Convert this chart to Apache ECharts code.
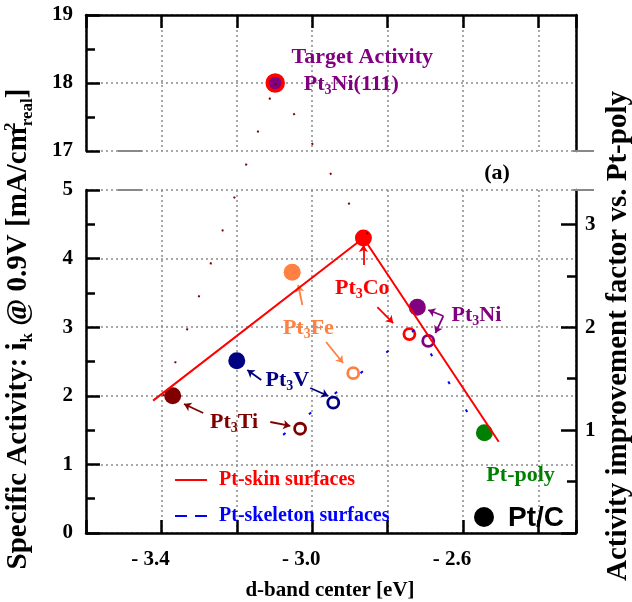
<!DOCTYPE html>
<html><head><meta charset="utf-8">
<script src="https://cdn.jsdelivr.net/npm/echarts@6/dist/echarts.min.js"></script>
<style>html,body{margin:0;padding:0;background:#fff}#c{width:632px;height:602px}</style>
</head><body><div id="c"></div>
<script>
const SERIF = '"Liberation Serif","Times New Roman",serif';
const SANS = '"Liberation Sans",Arial,sans-serif';

// ---- data ----
const xTickLabels = [-3.4, -3.0, -2.6];
const rightTickLabels = [1, 2, 3];
const skinNames = ['Pt3Ti', 'Pt3V', 'Pt3Fe', 'Pt3Co', 'Pt3Ni', 'Pt-poly'];
const skinX = [-3.37, -3.20, -3.053, -2.864, -2.721, -2.543];
const skinY = [2.00, 2.51, 3.80, 4.30, 3.29, 1.46];
const skinColors = ['#800000', '#000080', '#FF8040', '#FF0000', '#800080', '#008000'];
const skeletonNames = ['Pt3Ti', 'Pt3V', 'Pt3Fe', 'Pt3Co', 'Pt3Ni'];
const skeletonX = [-3.032, -2.944, -2.891, -2.742, -2.692];
const skeletonY = [1.52, 1.90, 2.33, 2.90, 2.80];
const skeletonColors = ['#800000', '#000080', '#FF8040', '#FF0000', '#800080'];
const targetX = [-3.098];
const targetY = [18.0];
const skinTrendX = [-3.422, -2.864, -2.505];
const skinTrendY = [1.93, 4.30, 1.33];
const skeletonTrendX = [-3.077, -2.726, -2.548];
const skeletonTrendY = [1.43, 2.97, 1.41];
const guide1X = [-3.395, -3.098];
const guide1Y = [2.0, 18.0];
const guide2X = [-3.098, -2.845];
const guide2Y = [18.0, 4.3];
// annotation leaders (start -> arrow end), data coordinates
const leaderStart = [[-3.289, 1.749], [-3.111, 1.618], [-3.135, 2.230], [-3.005, 2.114], [-3.026, 3.324], [-2.963, 2.784], [-2.864, 3.907], [-2.827, 3.294], [-2.652, 3.163], [-2.652, 3.163]];
const leaderEnd = [[-3.340, 1.880], [-3.058, 1.560], [-3.172, 2.376], [-2.957, 1.997], [-3.037, 3.615], [-2.918, 2.478], [-2.864, 4.198], [-2.785, 3.061], [-2.692, 3.251], [-2.673, 2.915]];
const leaderColors = ['#800000', '#800000', '#000080', '#000080', '#FF8040', '#FF8040', '#FF0000', '#FF0000', '#800080', '#800080'];
const labelTexts = ['Pt3Ti', 'Pt3V', 'Pt3Fe', 'Pt3Co', 'Pt3Ni', 'Pt-poly'];
const labelX = [-3.207, -3.066, -3.010, -2.867, -2.564, -2.447];
const labelY = [1.618, 2.230, 2.988, 3.571, 3.178, 0.845];
const labelColors = ['#800000', '#000080', '#FF8040', '#FF0000', '#800080', '#008000'];
const targetLabelTexts = ['Target Activity', 'Pt3Ni(111)'];
const targetLabelX = [-2.867, -2.896];
const targetLabelY = [18.38, 17.985];

// ---- helpers ----
function zip(a, b) { return a.map((v, i) => [v, b[i]]); }
function richText(t) {
  const m = t.match(/^Pt3(.*)$/);
  if (m) return '{m|Pt}{s|3}{m|' + m[1] + '}';
  return '{m|' + t + '}';
}
function richFor(color, size) {
  return {
    m: { fontFamily: SERIF, fontWeight: 'bold', fontSize: size, color: color, lineHeight: size + 4 },
    s: { fontFamily: SERIF, fontWeight: 'bold', fontSize: Math.round(size * 0.64), color: color, verticalAlign: 'bottom', lineHeight: Math.round(size * 0.64) }
  };
}
const gridLine = { show: true, lineStyle: { color: '#8a8a8a', type: [2, 3], width: 1.5 } };
const blackLine = { show: true, lineStyle: { color: '#000', width: 2.5 } };
const axisLabelFont = { fontFamily: SERIF, fontWeight: 'bold', fontSize: 21, color: '#000' };
const X0 = -3.6, X1 = -2.3, XI = 0.2;

const chart = echarts.init(document.getElementById('c'), null, { renderer: 'canvas' });

const option = {
  animation: false,
  backgroundColor: '#fff',
  grid: [
    { left: 86, top: 15, width: 490, height: 136, outerBoundsMode: 'none' },
    { left: 86, top: 190, width: 490, height: 343, outerBoundsMode: 'none' },
    { left: 86, top: 15, width: 490, height: 518, outerBoundsMode: 'none' }
  ],
  xAxis: [
    { gridIndex: 0, type: 'value', position: 'top', min: X0, max: X1, interval: XI,
      axisLine: blackLine, axisTick: { inside: true, length: 13, lineStyle: { width: 2.5, color: '#000' } },
      axisLabel: { show: false }, splitLine: gridLine },
    { gridIndex: 1, type: 'value', position: 'bottom', min: X0, max: X1, interval: XI,
      axisLine: blackLine, axisTick: { inside: true, length: 13, lineStyle: { width: 2.5, color: '#000' } },
      axisLabel: Object.assign({ margin: 16, padding: [0, 22, 0, 0],
        formatter: v => xTickLabels.some(t => Math.abs(t - v) < 1e-6) ? '- ' + Math.abs(v).toFixed(1) : '' }, axisLabelFont),
      splitLine: gridLine },
    { gridIndex: 2, type: 'value', min: X0, max: X1, show: false }
  ],
  yAxis: [
    { gridIndex: 0, type: 'value', position: 'left', min: 17, max: 19, interval: 1,
      axisLine: blackLine,
      axisTick: { inside: true, length: 14, lineStyle: { width: 2.5, color: '#000' } },
      minorTick: { show: true, splitNumber: 2, length: 9, lineStyle: { width: 2.5, color: '#000' } },
      axisLabel: Object.assign({ margin: 13 }, axisLabelFont), splitLine: gridLine },
    { gridIndex: 0, type: 'value', position: 'right', min: 17, max: 19,
      axisLine: blackLine, axisTick: { show: false }, axisLabel: { show: false }, splitLine: { show: false } },
    { gridIndex: 1, type: 'value', position: 'left', min: 0, max: 5, interval: 1,
      axisLine: blackLine,
      axisTick: { inside: true, length: 14, lineStyle: { width: 2.5, color: '#000' } },
      minorTick: { show: true, splitNumber: 2, length: 9, lineStyle: { width: 2.5, color: '#000' } },
      axisLabel: Object.assign({ margin: 13 }, axisLabelFont), splitLine: gridLine },
    { gridIndex: 1, type: 'value', position: 'right', min: 0, max: 10 / 3, interval: 1,
      axisLine: blackLine,
      axisTick: { inside: true, length: 15, customValues: [0, 1, 2, 3], lineStyle: { width: 2.5, color: '#000' } },
      minorTick: { show: true, splitNumber: 2, length: 9, lineStyle: { width: 2.5, color: '#000' } },
      axisLabel: Object.assign({ margin: 9, customValues: rightTickLabels, formatter: v => rightTickLabels.includes(Math.round(v * 1000) / 1000) ? String(Math.round(v)) : '' }, axisLabelFont),
      splitLine: { show: false } },
    { gridIndex: 2, type: 'value', min: 0, max: 19, show: false,
      breaks: [{ start: 5, end: 17, gap: '7.53%' }],
      breakArea: { show: false } }
  ],
  legend: {
    orient: 'vertical', left: 170, top: 465, itemWidth: 32, itemHeight: 20, itemGap: 16,
    selectedMode: false,
    textStyle: { fontFamily: SERIF, fontWeight: 'bold', fontSize: 20, lineHeight: 20, padding: [0, 0, 0, 7] },
    data: [
      { name: 'Pt-skin surfaces', icon: 'path://M0,9 L32,9 L32,11 L0,11 Z', itemStyle: { color: '#FF0000' }, textStyle: { color: '#FF0000' } },
      { name: 'Pt-skeleton surfaces', icon: 'path://M0,9 L12,9 L12,11 L0,11 Z M20,9 L32,9 L32,11 L20,11 Z', itemStyle: { color: '#0000FF' }, textStyle: { color: '#0000FF' } }
    ]
  },
  series: [
    { name: 'Pt-skin surfaces', type: 'line', xAxisIndex: 1, yAxisIndex: 2, z: 5,
      data: zip(skinTrendX, skinTrendY), symbol: 'none',
      lineStyle: { color: '#FF0000', width: 2 }, itemStyle: { color: '#FF0000' } },
    { name: 'Pt-skeleton surfaces', type: 'line', xAxisIndex: 1, yAxisIndex: 2, z: 5,
      data: zip(skeletonTrendX, skeletonTrendY), symbol: 'none',
      lineStyle: { color: '#0000FF', width: 2, type: [3, 30] }, itemStyle: { color: '#0000FF' } },
    { name: 'guide1', type: 'line', xAxisIndex: 2, yAxisIndex: 4, z: 5,
      data: zip(guide1X, guide1Y), symbol: 'none',
      lineStyle: { color: '#800000', width: 2, type: [2, 33] } },
    { name: 'guide2', type: 'line', xAxisIndex: 2, yAxisIndex: 4, z: 5,
      data: zip(guide2X, guide2Y), symbol: 'none',
      lineStyle: { color: '#800000', width: 2, type: [2, 33] } },
    { name: 'skin points', type: 'scatter', xAxisIndex: 1, yAxisIndex: 2, z: 3,
      symbolSize: 17,
      data: skinX.map((x, i) => ({ value: [x, skinY[i]], itemStyle: { color: skinColors[i], opacity: 1 } })) },
    { name: 'skeleton points', type: 'scatter', xAxisIndex: 1, yAxisIndex: 2, z: 3,
      symbolSize: 11,
      data: skeletonX.map((x, i) => ({ value: [x, skeletonY[i]], itemStyle: { color: '#fff', borderColor: skeletonColors[i], borderWidth: 2.8, opacity: 1 } })) },
    { name: 'target', type: 'scatter', xAxisIndex: 0, yAxisIndex: 0, z: 3,
      symbolSize: 16,
      data: zip(targetX, targetY), itemStyle: { color: '#800080', borderColor: '#FF0000', borderWidth: 3.5, opacity: 1 } },
    { name: 'leaders', type: 'lines', coordinateSystem: 'cartesian2d', xAxisIndex: 1, yAxisIndex: 2, z: 4,
      symbol: ['none', 'arrow'], symbolSize: 7,
      data: leaderStart.map((s, i) => ({ coords: [s, leaderEnd[i]], lineStyle: { color: leaderColors[i], width: 1.8, opacity: 1 } })) },
    { name: 'labels', type: 'scatter', xAxisIndex: 1, yAxisIndex: 2, z: 6, symbolSize: 1,
      itemStyle: { color: 'transparent', opacity: 1 }, silent: true,
      data: labelX.map((x, i) => ({ value: [x, labelY[i]],
        label: { show: true, opacity: 1, position: 'inside', formatter: richText(labelTexts[i]), rich: richFor(labelColors[i], 22) } })) },
    { name: 'target labels', type: 'scatter', xAxisIndex: 0, yAxisIndex: 0, z: 6, symbolSize: 1,
      itemStyle: { color: 'transparent', opacity: 1 }, silent: true,
      data: targetLabelX.map((x, i) => ({ value: [x, targetLabelY[i]],
        label: { show: true, opacity: 1, position: 'inside', formatter: richText(targetLabelTexts[i]), rich: richFor('#800080', 22) } })) }
  ],
  graphic: [
    { type: 'text', x: 19, y: 329, rotation: Math.PI / 2, z: 10,
      style: { text: '{b|Specific Activity: i}{s|k}{b| @ 0.9V [mA/cm}{p|2}{s|real}{b|]}',
        align: 'center', verticalAlign: 'middle', textAlign: 'center', textVerticalAlign: 'middle',
        rich: {
          b: { fontFamily: SERIF, fontWeight: 'bold', fontSize: 29, lineHeight: 34, color: '#000' },
          s: { fontFamily: SERIF, fontWeight: 'bold', fontSize: 17, lineHeight: 17, verticalAlign: 'bottom', color: '#000' },
          p: { fontFamily: SERIF, fontWeight: 'bold', fontSize: 17, lineHeight: 17, verticalAlign: 'top', color: '#000', width: 1 }
        } } },
    { type: 'text', x: 619, y: 336, rotation: Math.PI / 2, z: 10,
      style: { text: 'Activity improvement factor vs. Pt-poly', fill: '#000',
        font: 'bold 29px ' + SERIF,
        align: 'center', verticalAlign: 'middle', textAlign: 'center', textVerticalAlign: 'middle' } },
    { type: 'text', x: 330, y: 591, z: 10,
      style: { text: 'd-band center [eV]', fill: '#000', font: 'bold 21px ' + SERIF,
        align: 'center', verticalAlign: 'middle', textAlign: 'center', textVerticalAlign: 'middle' } },
    { type: 'text', x: 497, y: 173, z: 10,
      style: { text: '(a)', fill: '#000', font: 'bold 22px ' + SERIF,
        align: 'center', verticalAlign: 'middle', textAlign: 'center', textVerticalAlign: 'middle' } },
    { type: 'circle', shape: { cx: 484, cy: 517, r: 10 }, style: { fill: '#000' }, z: 10 },
    { type: 'text', x: 508, y: 518, z: 10,
      style: { text: 'Pt/C', fill: '#000', font: 'bold 28px ' + SANS,
        align: 'left', verticalAlign: 'middle', textAlign: 'left', textVerticalAlign: 'middle' } },
    { type: 'line', shape: { x1: 118, y1: 151, x2: 142, y2: 151 }, style: { stroke: '#888', lineWidth: 2 }, z: 10 },
    { type: 'line', shape: { x1: 118, y1: 190, x2: 142, y2: 190 }, style: { stroke: '#888', lineWidth: 2 }, z: 10 },
    { type: 'line', shape: { x1: 573, y1: 151, x2: 594, y2: 151 }, style: { stroke: '#888', lineWidth: 2 }, z: 10 },
    { type: 'line', shape: { x1: 573, y1: 190, x2: 594, y2: 190 }, style: { stroke: '#888', lineWidth: 2 }, z: 10 }
  ]
};
chart.setOption(option);
</script>
</body></html>
